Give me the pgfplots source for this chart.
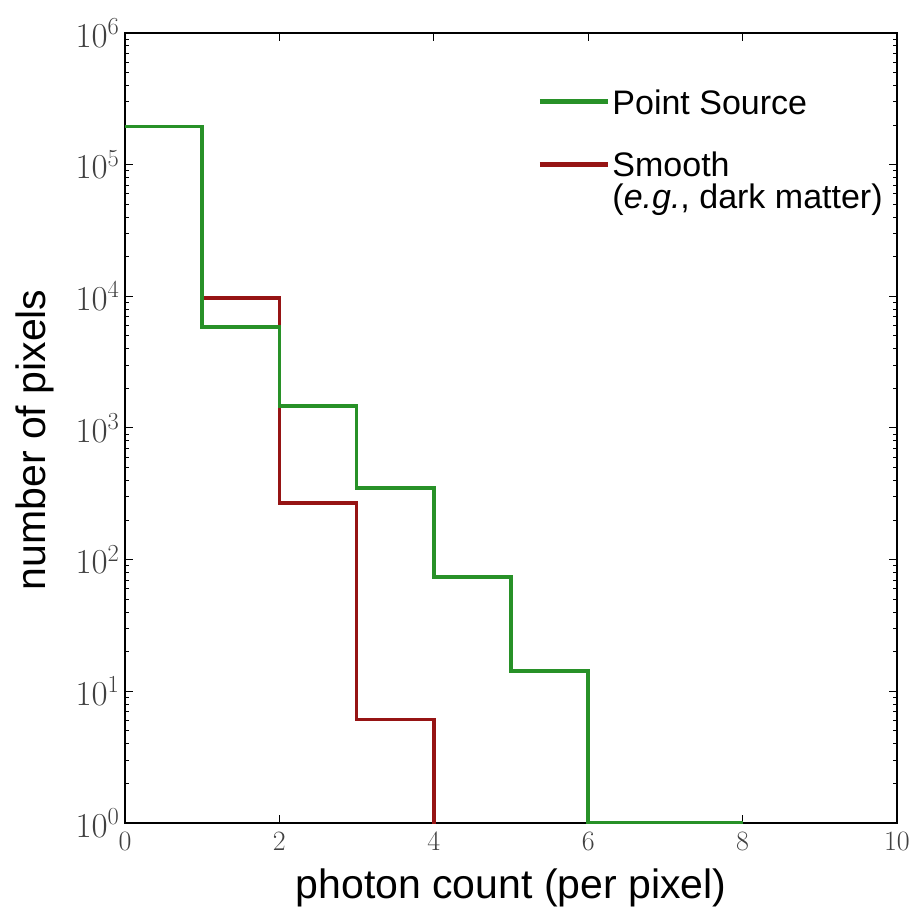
\RequirePackage{fix-cm}
\documentclass[border=0pt]{standalone}
\usepackage{pgfplots}
\pgfplotsset{compat=1.18}
\usepackage{fontspec}
\setsansfont{Liberation Sans}
\definecolor{psgreen}{RGB}{40,145,40}
\definecolor{smred}{RGB}{150,20,20}
\begin{document}
\begin{tikzpicture}
\begin{axis}[
  scale only axis,
  width=772pt, height=790pt,
  xmin=0, xmax=10,
  ymode=log, ymin=1, ymax=1e6,
  xtick={0,2,4,6,8,10},
  ytick={1,10,100,1000,10000,100000,1000000},
  tick align=inside,
  xtick pos=both, ytick pos=both,
  major tick length=8pt, minor tick length=4.5pt,
  every tick/.style={black, line width=1pt},
  axis line style={line width=1.6pt},
  x tick label style={font=\fontsize{28}{32}\selectfont, text=black!75, yshift=-6pt},
  y tick label style={font=\fontsize{35}{40}\selectfont, text=black!75, xshift=-2pt},
  xlabel={photon count (per pixel)},
  ylabel={number of pixels},
  every axis x label/.style={at={(axis description cs:0.5,-0.082)}, anchor=center,
    font=\sffamily\fontsize{41}{48}\selectfont},
  every axis y label/.style={at={(axis description cs:-0.1166,0.485)}, anchor=center,
    rotate=90, font=\sffamily\fontsize{41}{48}\selectfont},
  legend style={draw=none, fill=none, at={(axis description cs:0.534,0.933)}, anchor=north west,
    font=\sffamily\fontsize{34}{37}\selectfont, row sep=0pt, inner sep=0pt},
  legend cell align=left,
  legend image code/.code={\draw[#1] (0pt,0pt) -- (68pt,0pt);},
]
% smooth (dark matter) histogram, drawn first
\addplot[smred, line width=3.5pt, const plot, forget plot] coordinates {
  (0,195000) (1,9750) (2,270) (3,6.1) (4,0.001)
};
% point source histogram
\addplot[psgreen, line width=3.5pt, const plot, forget plot] coordinates {
  (0,195000) (1,5870) (2,1466) (3,350) (4,74) (5,14.3) (6,1) (8,1)
};
\addlegendimage{psgreen, line width=5pt}
\addlegendentry{\strut Point Source}
\addlegendimage{empty legend}
\addlegendentry{\strut}
\addlegendimage{smred, line width=5pt}
\addlegendentry{\strut Smooth}
\addlegendimage{empty legend}
\addlegendentry{\strut(\textit{e.g.}, dark matter)}
\end{axis}
\path (-125pt,-95pt) rectangle (792pt,823pt);
\end{tikzpicture}
\end{document}
